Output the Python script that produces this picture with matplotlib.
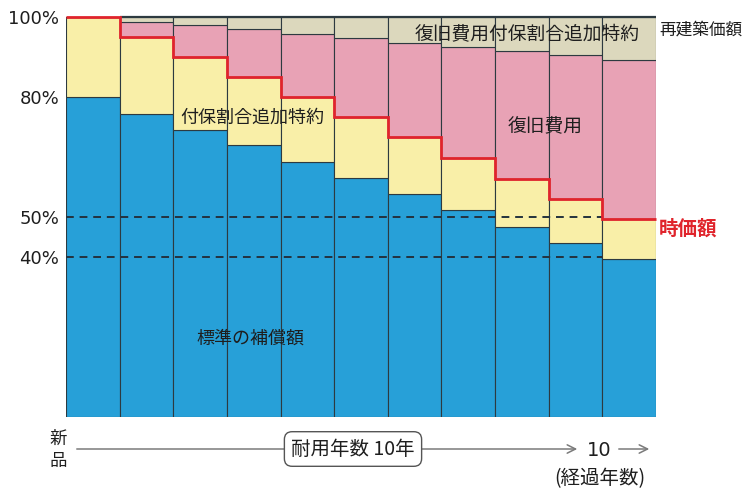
import matplotlib
matplotlib.use("Agg")
import matplotlib.pyplot as plt
import numpy as np

plt.rcParams['font.family'] = ['Noto Sans CJK JP', 'DejaVu Sans']

# ---- data (percent of rebuilding value) ----
years = list(range(11))                      # 新品, 1..10 years
standard = [80, 75.7, 71.8, 67.9, 63.7, 59.7, 55.7, 51.7, 47.6, 43.5, 39.5]   # 標準の補償額
market = [100, 95, 90, 85, 80, 75, 70, 64.8, 59.6, 54.5, 49.5]               # 時価額 (top of yellow)
restore = [100, 98.8, 97.9, 96.9, 95.8, 94.7, 93.6, 92.6, 91.5, 90.4, 89.3]  # 復旧費用 top
rebuild = [100] * 11                                                           # 再建築価額
ytick_vals = [40, 50, 80, 100]
ytick_labels = ['40%', '50%', '80%', '100%']
dash_levels = [50, 40]

C_BLUE = '#27a0d8'
C_YEL = '#f9efa8'
C_PINK = '#e8a2b5'
C_BEIGE = '#dcd8bd'
C_RED = '#e0242c'
C_EDGE = '#2d3a40'
C_TXT = '#1e1e1e'

W, H = 744, 493
fig = plt.figure(figsize=(W / 100, H / 100), dpi=100)
fig.patch.set_facecolor('white')

def fx(px):
    return px / W

def fy(py):
    return 1 - py / H

ax = fig.add_axes([fx(66), fy(417), fx(656) - fx(66), fy(17) - fy(417)])

x = np.array(years)
std = np.array(standard)
mkt = np.array(market)
rst = np.array(restore)
rbd = np.array(rebuild)

kw = dict(width=1.0, edgecolor=C_EDGE, linewidth=0.8, align='center')
ax.bar(x, std, color=C_BLUE, **kw)
ax.bar(x, mkt - std, bottom=std, color=C_YEL, **kw)
ax.bar(x, rst - mkt, bottom=mkt, color=C_PINK, **kw)
ax.bar(x, rbd - rst, bottom=rst, color=C_BEIGE, **kw)

# top edge of 再建築価額
ax.hlines(100, 0.5, 10.5, colors=C_EDGE, linewidth=1.6, zorder=4, clip_on=False)

# 時価額 red step line
edges = np.arange(len(x) + 1) - 0.5
ax.stairs(mkt, edges, baseline=None, color=C_RED, linewidth=2.0, zorder=5, clip_on=False)

# dashed reference lines
ax.hlines(dash_levels, -0.5, 9.5, colors='#24323e', linestyles=(0, (4, 3)),
          linewidth=1.4, zorder=4)

ax.set_xlim(-0.5, 10.5)
ax.set_ylim(0, 100)
ax.set_xticks([])
ax.set_yticks(ytick_vals)
ax.set_yticklabels(ytick_labels, fontsize=13, color=C_TXT, family=['DejaVu Sans'])
ax.tick_params(axis='y', length=0, pad=5)
for s in ax.spines.values():
    s.set_visible(False)

# in-chart labels
ax.text(2.97, 74.8, '付保割合追加特約', ha='center', va='center', fontsize=13, color=C_TXT, zorder=6)
ax.text(8.1, 95.6, '復旧費用付保割合追加特約', ha='center', va='center', fontsize=13.5, color=C_TXT, zorder=6)
ax.text(8.44, 72.5, '復旧費用', ha='center', va='center', fontsize=13.5, color=C_TXT, zorder=6)
ax.text(2.93, 19.5, '標準の補償額', ha='center', va='center', fontsize=13, color=C_TXT, zorder=6)

# right side labels
fig.text(fx(659), fy(30), '再建築価額', ha='left', va='center', fontsize=12, color=C_TXT)
fig.text(fx(659), fy(229), '時価額', ha='left', va='center', fontsize=14, color=C_RED, fontweight='bold')

# bottom axis annotation
fig.text(fx(58), fy(439), '新', ha='center', va='center', fontsize=12.5, color=C_TXT)
fig.text(fx(58), fy(461), '品', ha='center', va='center', fontsize=12.5, color=C_TXT)
fig.patches.append(matplotlib.patches.FancyArrowPatch(
    (fx(74), fy(449)), (fx(580), fy(449)), transform=fig.transFigure,
    arrowstyle='->,head_length=6,head_width=3', color='#7a7a7a', linewidth=1.1, mutation_scale=1))
fig.text(fx(353), fy(449), '耐用年数 10年', ha='center', va='center', fontsize=14, color=C_TXT,
         bbox=dict(boxstyle='round,pad=0.35,rounding_size=0.4', facecolor='white', edgecolor='#555555', linewidth=1.0))
fig.text(fx(599), fy(450), '10', ha='center', va='center', fontsize=14, color=C_TXT, family=['DejaVu Sans'])
fig.patches.append(matplotlib.patches.FancyArrowPatch(
    (fx(616), fy(449)), (fx(652), fy(449)), transform=fig.transFigure,
    arrowstyle='->,head_length=6,head_width=3', color='#7a7a7a', linewidth=1.1, mutation_scale=1))
fig.text(fx(600), fy(479), '(経過年数)', ha='center', va='center', fontsize=14, color=C_TXT)

fig.savefig('out.png', dpi=100, facecolor='white')
